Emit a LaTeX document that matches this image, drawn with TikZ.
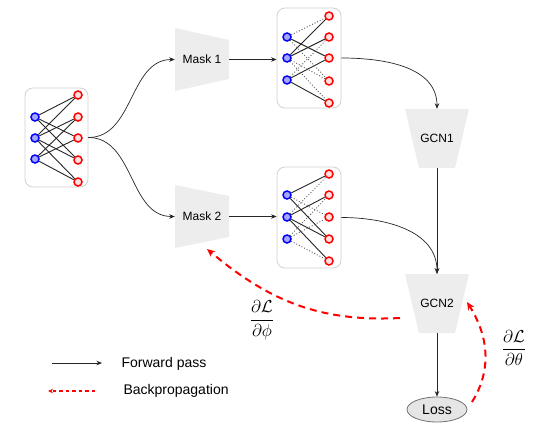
\documentclass[tikz,border=0pt]{standalone}
\usepackage{amsmath}
\usepackage{fontspec}
\setmainfont{Liberation Sans}
\usetikzlibrary{arrows.meta,shapes.geometric}
\begin{document}
\begin{tikzpicture}[x=1pt,y=-1pt,
  gbox/.style={draw=black!18, fill=white, rounded corners=8pt, line width=0.8pt, inner sep=0pt},
  bnode/.style={circle, draw=blue, fill=blue!35, line width=1.5pt, inner sep=0pt, minimum size=8pt},
  rnode/.style={circle, draw=red, fill=red!12, line width=1.5pt, inner sep=0pt, minimum size=8pt},
  kept/.style={black!85, line width=0.9pt},
  cut/.style={black!65, dotted, line width=0.9pt},
  fwd/.style={-{Stealth[length=5.5pt,width=4.5pt]}, black!85, line width=0.7pt},
  back/.style={-{Stealth[length=8pt,width=7pt]}, red, dash pattern=on 7pt off 5pt, line width=2pt},
  block/.style={fill=black!7, draw=none},
  ghost/.style={draw=none, inner sep=0pt},
  lbl/.style={font=\fontsize{12}{14}\selectfont},
  leg/.style={font=\fontsize{14}{17}\selectfont, anchor=west},
  frac/.style={font=\fontsize{16}{19}\selectfont}
]
\useasboundingbox (0,0) rectangle (556,444);

% ---------- graph boxes ----------
\node[gbox, minimum width=63pt, minimum height=99pt] (G0) at (56.5,137.5) {};
\node[gbox, minimum width=64pt, minimum height=100pt] (G1) at (309,58) {};
\node[gbox, minimum width=64pt, minimum height=101pt] (G2) at (309,217.5) {};

% ---------- graph nodes ----------
\foreach \i/\y in {1/117,2/138,3/159} \node[bnode] (a\i) at (35,\y) {};
\foreach \i/\y in {1/95,2/117,3/138,4/160,5/182} \node[rnode] (b\i) at (78,\y) {};
\foreach \i/\y in {1/37,2/58,3/80} \node[bnode] (c\i) at (287,\y) {};
\foreach \i/\y in {1/16,2/37,3/58,4/81,5/103} \node[rnode] (d\i) at (329,\y) {};
\foreach \i/\y in {1/195,2/217,3/239} \node[bnode] (e\i) at (287,\y) {};
\foreach \i/\y in {1/174,2/195,3/217,4/239,5/261} \node[rnode] (f\i) at (329,\y) {};

% full graph
\foreach \s/\t in {a1/b1,a1/b3,a1/b4,a2/b1,a2/b2,a2/b4,a2/b5,a3/b2,a3/b3,a3/b5}
  \draw[kept] (\s) -- (\t);
% masked graph 1
\foreach \s/\t in {c1/d3,c2/d1,c2/d2,c3/d3,c3/d5} \draw[kept] (\s) -- (\t);
\foreach \s/\t in {c1/d1,c1/d4,c2/d4,c2/d5,c3/d2} \draw[cut] (\s) -- (\t);
% masked graph 2
\foreach \s/\t in {e1/f1,e1/f4,e2/f2,e2/f4,e2/f5} \draw[kept] (\s) -- (\t);
\foreach \s/\t in {e1/f3,e2/f1,e3/f2,e3/f3,e3/f5} \draw[cut] (\s) -- (\t);

% ---------- masks ----------
\fill[block] (175,28) -- (229,40) -- (229,79) -- (175,91) -- cycle;
\node[ghost, minimum width=54pt, minimum height=63pt, lbl] (M1) at (202,59.5) {Mask 1};
\fill[block] (175,185) -- (229,196) -- (229,237) -- (175,248) -- cycle;
\node[ghost, minimum width=54pt, minimum height=63pt, lbl] (M2) at (202,216.5) {Mask 2};

% ---------- GCNs ----------
\fill[block] (405,109) -- (469,109) -- (455,168) -- (419,168) -- cycle;
\node[ghost, minimum width=64pt, minimum height=59pt, lbl] (C1) at (437,138.5) {GCN1};
\fill[block] (405,274) -- (469,274) -- (455,333) -- (419,333) -- cycle;
\node[ghost, minimum width=64pt, minimum height=59pt, lbl] (C2) at (437,303.5) {GCN2};

% ---------- loss ----------
\node[ellipse, draw=black!55, fill=black!10, line width=0.8pt, minimum width=60pt, minimum height=25pt, inner sep=0pt, font=\fontsize{14}{17}\selectfont] (Loss) at (437,409.5) {Loss};

% ---------- forward connectors ----------
\draw[fwd] (G0.east) to[out=0,in=180] (M1.west);
\draw[fwd] (G0.east) to[out=0,in=180] (M2.west);
\draw[fwd] (M1.east) -- (M1.east -| G1.west);
\draw[fwd] (M2.east) -- (M2.east -| G2.west);
\draw[fwd] (G1.east) to[out=0,in=90] (C1.north);
\draw[fwd] (G2.east) to[out=0,in=90] (C2.north);
\draw[fwd] (C1.south) -- (C2.north);
\draw[fwd] (C2.south) -- (Loss.north);

% ---------- backpropagation ----------
\coordinate (bp1) at (400,318);
\coordinate (bp2) at (207,249);
\coordinate (bq1) at (472,402);
\coordinate (bq2) at (467,302);
\draw[back] (bp1) to[out=183,in=-40] (bp2);
\draw[back] (bq1) to[out=58,in=-58] (bq2);
\node[frac] (dphi) at (262,320) {$\dfrac{\partial\mathcal{L}}{\partial\phi}$};
\node[frac] (dtheta) at (514,348) {$\dfrac{\partial\mathcal{L}}{\partial\theta}$};

% ---------- legend ----------
\coordinate (lf1) at (52,363);
\coordinate (lf2) at (102,363);
\coordinate (lb1) at (95,391);
\coordinate (lb2) at (48,391);
\draw[fwd] (lf1) -- (lf2);
\draw[-{Stealth[length=5pt,width=4.5pt]}, red, dash pattern=on 3.5pt off 3pt, line width=1.2pt] (lb1) -- (lb2);
\node[leg] (tf) at (118,363.5) {Forward pass};
\node[leg] (tb) at (120,391) {Backpropagation};
\end{tikzpicture}
\end{document}
